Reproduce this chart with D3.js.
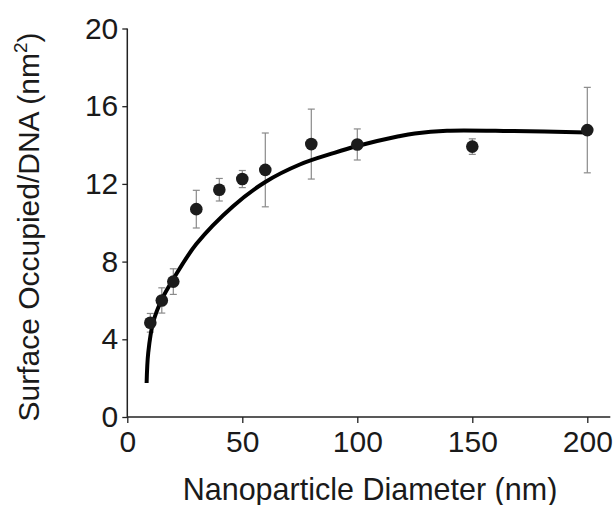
<!DOCTYPE html>
<html>
  <head>
    <meta charset="UTF-8">
    <title>Surface occupied per DNA</title>
    <style>
      body { margin: 0; background: #fff; }
      text { font-family: "Liberation Sans", Arial, sans-serif; fill: #1a1a1a; }
    </style>
  </head>
  <body>
    <div id="chart"></div>
    <script src="https://d3js.org/d3.v7.min.js"></script>
    <script>
      // measured points
      let diameters = [10, 15, 20, 30, 40, 50, 60, 80, 100, 150, 200];
      let surfaces  = [4.85, 6.0, 6.97, 10.7, 11.7, 12.25, 12.72, 14.05, 14.03, 13.92, 14.77];
      let errors    = [0.48, 0.65, 0.66, 0.97, 0.58, 0.44, 1.9, 1.8, 0.8, 0.4, 2.2];

      // fitted curve
      let fitX = [8.4, 9.1, 11.3, 15, 20, 30, 46, 60, 75, 90, 100, 118, 125, 139, 168, 200];
      let fitY = [1.75, 3.3, 4.9, 6.05, 7.1, 8.9, 10.85, 12.1, 13.0, 13.6, 13.95, 14.45, 14.6, 14.74, 14.72, 14.65];

      let xTicks = [0, 50, 100, 150, 200];
      let yTicks = [0, 4, 8, 12, 16, 20];

      let width = 615;
      let height = 505;

      let svg = d3.select("#chart").append("svg").attr("width", width).attr("height", height);

      let x = d3.scaleLinear().domain([0, 210]).range([127.3, 610.3]);
      let y = d3.scaleLinear().domain([0, 20]).range([417, 28.5]);

      let xAxis = svg.append("g")
        .attr("transform", "translate(0," + y(0) + ")")
        .call(d3.axisBottom(x).tickValues(xTicks).tickSize(6).tickPadding(8).tickFormat(d3.format("d")));
      let yAxis = svg.append("g")
        .attr("transform", "translate(" + x(0) + ",0)")
        .call(d3.axisLeft(y).tickValues(yTicks).tickSize(5).tickPadding(4).tickFormat(d3.format("d")));

      [xAxis, yAxis].forEach(function(g) {
        g.select(".domain").attr("stroke", "#222").attr("stroke-width", 1.5);
        g.selectAll(".tick line").attr("stroke", "#222").attr("stroke-width", 1.3);
        g.selectAll(".tick text")
          .attr("fill", "#1a1a1a")
          .style("font-family", "'Liberation Sans', Arial, sans-serif")
          .style("font-size", "30px");
      });
      xAxis.select(".domain").attr("d", "M" + x(0) + ",0H" + x(210));
      yAxis.select(".domain").attr("d", "M0," + y(0) + "V" + y(20));

      // error bars
      let eb = svg.append("g").attr("stroke", "#8a8a8a").attr("stroke-width", 1.2);
      diameters.forEach(function(d, i) {
        let top = y(surfaces[i] + errors[i]);
        let bot = y(surfaces[i] - errors[i]);
        eb.append("line").attr("x1", x(d)).attr("x2", x(d)).attr("y1", top).attr("y2", bot);
        eb.append("line").attr("x1", x(d) - 3.5).attr("x2", x(d) + 3.5).attr("y1", top).attr("y2", top);
        eb.append("line").attr("x1", x(d) - 3.5).attr("x2", x(d) + 3.5).attr("y1", bot).attr("y2", bot);
      });

      // fit line
      let line = d3.line()
        .x(function(d, i) { return x(fitX[i]); })
        .y(function(d) { return y(d); })
        .curve(d3.curveCatmullRom.alpha(0.5));
      svg.append("path")
        .attr("d", line(fitY))
        .attr("fill", "none")
        .attr("stroke", "#000")
        .attr("stroke-width", 4);

      // points
      svg.selectAll(".pt")
        .data(diameters)
        .enter()
        .append("circle")
        .attr("class", "pt")
        .attr("cx", function(d) { return x(d); })
        .attr("cy", function(d, i) { return y(surfaces[i]); })
        .attr("r", 6.3)
        .attr("fill", "#1c1c1c");

      // axis titles
      svg.append("text")
        .attr("x", 370)
        .attr("y", 500)
        .attr("text-anchor", "middle")
        .style("font-size", "30.5px")
        .text("Nanoparticle Diameter (nm)");

      let yt = svg.append("text")
        .attr("transform", "translate(39,227) rotate(-90)")
        .attr("text-anchor", "middle")
        .style("font-size", "30px");
      yt.append("tspan").text("Surface Occupied/DNA (nm");
      yt.append("tspan").attr("dy", -12).style("font-size", "19px").text("2");
      yt.append("tspan").attr("dy", 12).text(")");
    </script>
  </body>
</html>
